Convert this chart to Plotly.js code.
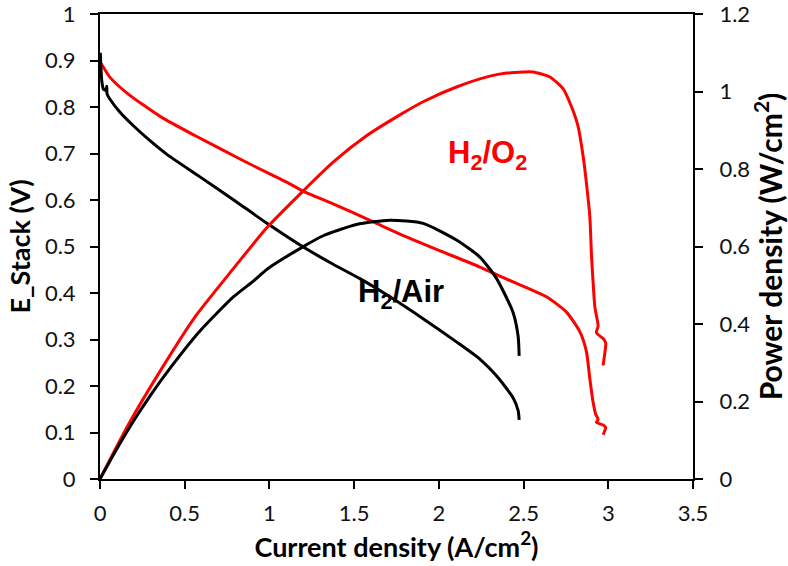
<!DOCTYPE html>
<html>
<head>
<meta charset="utf-8">
<script src="https://cdn.plot.ly/plotly-3.0.1.min.js"></script>
<style>html,body{margin:0;padding:0;background:#fff;}#chart{width:788px;height:566px;}</style>
</head>
<body>
<div id="chart"></div>
<script>
// H2/O2 voltage (left axis)
const o2VoltX = [0, 0.006, 0.059, 0.167, 0.364, 0.56, 0.855, 1.121, 1.2, 1.376, 1.632, 1.77, 2.0, 2.242, 2.438, 2.635, 2.753, 2.832, 2.871, 2.891, 2.91, 2.925, 2.94, 2.93, 2.975, 2.985, 2.975, 2.97];
const o2VoltY = [0.897, 0.894, 0.864, 0.828, 0.778, 0.739, 0.683, 0.635, 0.619, 0.592, 0.550, 0.527, 0.492, 0.456, 0.424, 0.392, 0.359, 0.317, 0.274, 0.216, 0.166, 0.140, 0.128, 0.122, 0.115, 0.110, 0.100, 0.095];
// H2/O2 power density (right axis)
const o2PowX = [0, 0.167, 0.364, 0.56, 0.787, 0.983, 1.2, 1.376, 1.573, 1.77, 1.907, 2.104, 2.301, 2.4, 2.497, 2.556, 2.655, 2.733, 2.783, 2.822, 2.852, 2.871, 2.891, 2.901, 2.911, 2.921, 2.94, 2.93, 2.975, 2.985, 2.979, 2.969];
const o2PowY = [0, 0.140, 0.285, 0.418, 0.543, 0.648, 0.744, 0.818, 0.886, 0.940, 0.974, 1.012, 1.040, 1.048, 1.051, 1.051, 1.038, 1.008, 0.961, 0.910, 0.832, 0.764, 0.678, 0.576, 0.503, 0.443, 0.395, 0.378, 0.360, 0.350, 0.323, 0.293];
// H2/Air voltage (left axis)
const airVoltX = [0.002, 0.006, 0.012, 0.02, 0.035, 0.04, 0.042, 0.059, 0.118, 0.197, 0.295, 0.393, 0.59, 0.787, 0.99, 1.2, 1.376, 1.534, 1.711, 1.907, 2.104, 2.242, 2.34, 2.438, 2.468, 2.474];
const airVoltY = [0.917, 0.880, 0.852, 0.839, 0.836, 0.845, 0.828, 0.817, 0.789, 0.760, 0.728, 0.699, 0.650, 0.601, 0.549, 0.499, 0.462, 0.431, 0.392, 0.345, 0.295, 0.258, 0.222, 0.175, 0.147, 0.127];
// H2/Air power density (right axis)
const airPowX = [0, 0.098, 0.197, 0.295, 0.393, 0.59, 0.787, 0.905, 0.99, 1.2, 1.317, 1.514, 1.711, 1.907, 2.104, 2.242, 2.34, 2.438, 2.468, 2.474];
const airPowY = [0, 0.077, 0.149, 0.214, 0.274, 0.382, 0.470, 0.511, 0.543, 0.600, 0.628, 0.657, 0.668, 0.660, 0.617, 0.573, 0.518, 0.430, 0.368, 0.318];

const xTicks = [0, 0.5, 1, 1.5, 2, 2.5, 3, 3.5];
const xTickText = ['0', '0.5', '1', '1.5', '2', '2.5', '3', '3.5'];
const yTicks = [0, 0.1, 0.2, 0.3, 0.4, 0.5, 0.6, 0.7, 0.8, 0.9, 1];
const yTickText = ['0', '0.1', '0.2', '0.3', '0.4', '0.5', '0.6', '0.7', '0.8', '0.9', '1'];
const y2Ticks = [0, 0.2, 0.4, 0.6, 0.8, 1, 1.2];
const y2TickText = ['0', '0.2', '0.4', '0.6', '0.8', '1', '1.2'];

const xTitle = 'Current density (A/cm<sup>2</sup>)';
const yTitle = 'E_Stack (V)';
const y2Title = 'Power density (W/cm<sup>2</sup>)';
const labelO2 = 'H<sub>2</sub>/O<sub>2</sub>';
const labelAir = 'H<sub>2</sub>/Air';

const RED = '#ff0000', BLACK = '#000000';
const FAM = 'Lato, "Liberation Sans", sans-serif';
const tickFont = {family: FAM, size: 22, color: '#111'};
const titleFont = {family: FAM, size: 27, color: '#000', weight: 'bold'};

const lineStyle = c => ({color: c, width: 3, shape: 'spline', smoothing: 0.6});
const traces = [
  {x: o2VoltX, y: o2VoltY, mode: 'lines', line: lineStyle(RED), yaxis: 'y'},
  {x: o2PowX, y: o2PowY, mode: 'lines', line: lineStyle(RED), yaxis: 'y2'},
  {x: airVoltX, y: airVoltY, mode: 'lines', line: lineStyle(BLACK), yaxis: 'y'},
  {x: airPowX, y: airPowY, mode: 'lines', line: lineStyle(BLACK), yaxis: 'y2'}
];

const axisCommon = {
  showgrid: false, zeroline: false,
  showline: true, linecolor: '#000', linewidth: 2,
  ticks: 'outside', ticklen: 8, tickwidth: 2, tickcolor: '#000',
  tickfont: tickFont, tickmode: 'array', ticklabeloverflow: 'allow'
};

const layout = {
  width: 788, height: 566,
  margin: {l: 100, r: 95, t: 14, b: 87},
  paper_bgcolor: '#fff', plot_bgcolor: '#fff',
  showlegend: false,
  xaxis: Object.assign({}, axisCommon, {
    range: [0, 3.5], tickvals: xTicks, ticktext: xTickText, mirror: true,
    ticklabelstandoff: 6,
    title: {text: xTitle, font: titleFont, standoff: 11}
  }),
  yaxis: Object.assign({}, axisCommon, {
    range: [0, 1.0004], tickvals: yTicks, ticktext: yTickText,
    ticklabelstandoff: 10,
    title: {text: yTitle, font: titleFont, standoff: 6}
  }),
  yaxis2: Object.assign({}, axisCommon, {
    range: [0, 1.2005], tickvals: y2Ticks, ticktext: y2TickText,
    overlaying: 'y', side: 'right',
    ticklabelstandoff: 12,
    title: {text: y2Title, font: {family: FAM, size: 30, color: '#000', weight: 'bold'}, standoff: 8}
  }),
  annotations: [
    {x: 2.29, y: 0.698, xref: 'x', yref: 'y', text: labelO2, showarrow: false,
     font: {family: '"Liberation Sans", Arial, sans-serif', size: 31, color: RED, weight: 'bold'}},
    {x: 1.776, y: 0.398, xref: 'x', yref: 'y', text: labelAir, showarrow: false,
     font: {family: '"Liberation Sans", Arial, sans-serif', size: 31, color: BLACK, weight: 'bold'}}
  ]
};

Plotly.newPlot('chart', traces, layout, {displayModeBar: false, staticPlot: true});
</script>
</body>
</html>
